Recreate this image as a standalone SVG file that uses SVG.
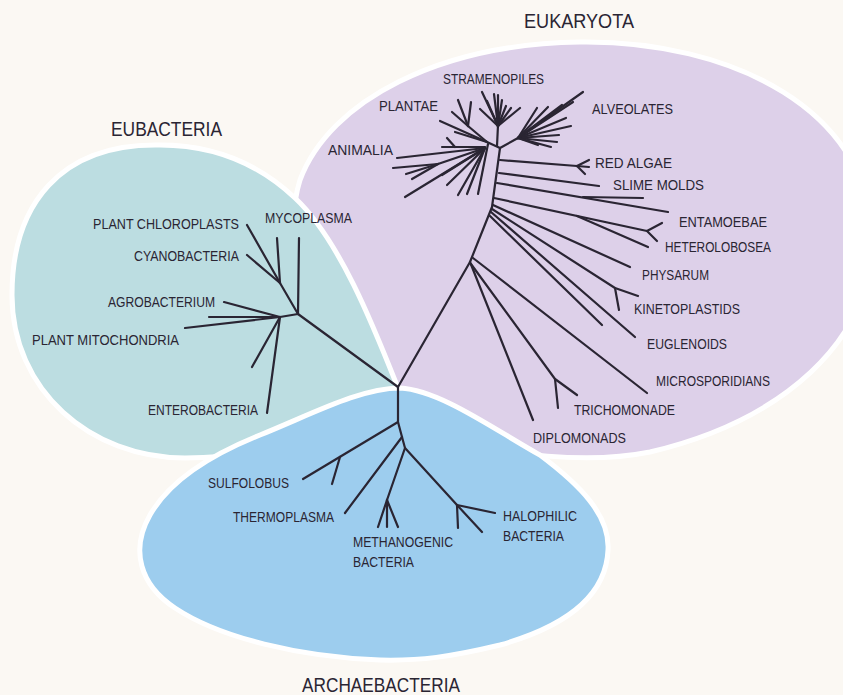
<svg xmlns="http://www.w3.org/2000/svg" width="843" height="695" viewBox="0 0 843 695">
<style>
.bg{fill:#fbf8f3}
.blob{stroke:#ffffff;stroke-width:5}
.euk{fill:#ddd0e9}
.eub{fill:#bcdde1}
.arc{fill:#9dcdee}
.t line,.t polyline,.t path{stroke:#2a2533;stroke-width:2.2;fill:none;stroke-linecap:round;stroke-linejoin:round}
text{font-family:"Liberation Sans","DejaVu Sans",sans-serif;fill:#2a2533;font-size:14px}
.title{font-size:21px}
</style>
<rect class="bg" x="0" y="0" width="843" height="695"/>

<g id="eukaryota-region">
<path class="blob euk" d="M 580 42 C 730 40, 875 110, 872 245 C 870 340, 785 420, 650 452 C 600 462, 500 462, 430 425 C 330 370, 275 260, 300 180 C 330 100, 440 44, 580 42 Z"/>
</g>
<g id="eubacteria-region">
<path class="blob eub" d="M 398 388 C 375 330, 340 240, 295 198 C 260 165, 215 145, 160 145 C 60 143, 12 205, 12 295 C 12 390, 90 458, 185 458 C 270 458, 350 430, 398 388 Z"/>
</g>
<g id="archaebacteria-region">
<path class="blob arc" d="M 400 388 C 440 390, 495 430, 540 455 C 580 485, 610 515, 608 550 C 606 600, 560 628, 500 645 C 450 657, 420 661, 380 660 C 300 657, 220 638, 175 608 C 140 585, 130 550, 150 515 C 170 480, 210 455, 260 435 C 310 415, 360 388, 400 388 Z"/>
</g>

<g id="connectors" class="t">
<!-- eubacteria -->
<line x1="398" y1="387" x2="298" y2="314"/>
<line x1="298" y1="314" x2="299" y2="238"/>
<line x1="298" y1="314" x2="280" y2="283"/>
<line x1="280" y1="283" x2="247" y2="225"/>
<line x1="280" y1="283" x2="247" y2="255"/>
<line x1="280" y1="283" x2="277" y2="238"/>
<line x1="298" y1="314" x2="280" y2="317"/>
<line x1="280" y1="317" x2="224" y2="302"/>
<line x1="280" y1="317" x2="209" y2="317"/>
<line x1="280" y1="317" x2="185" y2="328"/>
<line x1="280" y1="317" x2="252" y2="367"/>
<line x1="280" y1="317" x2="267" y2="413"/>
<!-- archaebacteria -->
<polyline points="398,387 398,422 402,437 405,448"/>
<line x1="398" y1="422" x2="303" y2="479"/>
<line x1="340" y1="457" x2="332" y2="484"/>
<line x1="402" y1="437" x2="345" y2="513"/>
<line x1="405" y1="448" x2="387" y2="500"/>
<line x1="387" y1="500" x2="378" y2="527"/>
<line x1="387" y1="500" x2="387" y2="527"/>
<line x1="387" y1="500" x2="398" y2="527"/>
<line x1="405" y1="448" x2="457" y2="505"/>
<line x1="457" y1="505" x2="458" y2="528"/>
<line x1="457" y1="505" x2="482" y2="532"/>
<line x1="457" y1="505" x2="495" y2="513"/>
<!-- eukaryota stem -->
<polyline points="398,387 470,262 492,207 500,148"/>
<!-- lower node -->
<line x1="470" y1="262" x2="533" y2="420"/>
<polyline points="471,264 555,379 577,395"/>
<line x1="555" y1="379" x2="558" y2="408"/>
<line x1="473" y1="258" x2="647" y2="393"/>
<!-- middle fan -->
<line x1="490" y1="216" x2="602" y2="325"/>
<line x1="491" y1="212" x2="635" y2="337"/>
<polyline points="492,209 615,288 638,296"/>
<line x1="615" y1="288" x2="619" y2="310"/>
<line x1="493" y1="205" x2="630" y2="267"/>
<polyline points="494,198 647,231 662,223"/>
<line x1="647" y1="231" x2="657" y2="241"/>
<line x1="577" y1="216" x2="648" y2="247"/>
<line x1="497" y1="183" x2="668" y2="212"/>
<line x1="583" y1="197" x2="643" y2="198"/>
<line x1="499" y1="173" x2="599" y2="186"/>
<polyline points="500,160 577,166 589,167"/>
<line x1="577" y1="166" x2="589" y2="160"/>
<line x1="577" y1="166" x2="585" y2="174"/>
<!-- crown -->
<line x1="500" y1="148" x2="487" y2="142"/>
<line x1="500" y1="148" x2="518" y2="138"/>
<line x1="497" y1="146" x2="498" y2="125"/>
<!-- stramenopiles -->
<line x1="498" y1="126" x2="482" y2="92"/>
<line x1="498" y1="126" x2="487" y2="101"/>
<line x1="498" y1="126" x2="494" y2="94"/>
<line x1="498" y1="126" x2="498" y2="95"/>
<line x1="498" y1="126" x2="502" y2="100"/>
<line x1="498" y1="126" x2="506" y2="106"/>
<line x1="498" y1="126" x2="511" y2="108"/>
<line x1="498" y1="126" x2="520" y2="108"/>
<line x1="498" y1="126" x2="480" y2="109"/>
<!-- alveolates -->
<line x1="518" y1="138" x2="583" y2="92"/>
<line x1="518" y1="138" x2="573" y2="102"/>
<line x1="518" y1="138" x2="562" y2="105"/>
<line x1="518" y1="138" x2="548" y2="107"/>
<line x1="518" y1="138" x2="537" y2="108"/>
<line x1="518" y1="138" x2="566" y2="118"/>
<line x1="518" y1="138" x2="571" y2="126"/>
<line x1="518" y1="138" x2="559" y2="135"/>
<line x1="518" y1="138" x2="557" y2="142"/>
<line x1="518" y1="138" x2="551" y2="147"/>
<line x1="518" y1="138" x2="538" y2="145"/>
<!-- plantae -->
<line x1="487" y1="142" x2="440" y2="121"/>
<line x1="487" y1="142" x2="468" y2="126"/>
<line x1="468" y1="126" x2="452" y2="112"/>
<line x1="468" y1="126" x2="458" y2="100"/>
<line x1="468" y1="126" x2="471" y2="102"/>
<line x1="487" y1="142" x2="455" y2="132"/>
<!-- animalia -->
<line x1="485" y1="147" x2="442" y2="147"/>
<line x1="455" y1="147" x2="447" y2="138"/>
<line x1="485" y1="148" x2="397" y2="158"/>
<line x1="485" y1="148" x2="438" y2="164"/>
<line x1="438" y1="164" x2="393" y2="168"/>
<line x1="438" y1="164" x2="406" y2="174"/>
<line x1="438" y1="164" x2="412" y2="179"/>
<line x1="485" y1="148" x2="405" y2="197"/>
<line x1="485" y1="148" x2="442" y2="175"/>
<line x1="485" y1="148" x2="447" y2="185"/>
<line x1="485" y1="148" x2="458" y2="195"/>
<line x1="485" y1="148" x2="467" y2="194"/>
<line x1="488" y1="144" x2="478" y2="194"/>
</g>

<g id="titles">
<text class="title" x="524" y="28" textLength="110" lengthAdjust="spacingAndGlyphs">EUKARYOTA</text>
<text class="title" x="111" y="136" textLength="111" lengthAdjust="spacingAndGlyphs">EUBACTERIA</text>
<text class="title" x="302" y="692" textLength="158" lengthAdjust="spacingAndGlyphs">ARCHAEBACTERIA</text>
</g>

<g id="eukaryota-labels">
<text x="443" y="84" textLength="101" lengthAdjust="spacingAndGlyphs">STRAMENOPILES</text>
<text x="379" y="111" textLength="59" lengthAdjust="spacingAndGlyphs">PLANTAE</text>
<text x="592" y="114" textLength="81" lengthAdjust="spacingAndGlyphs">ALVEOLATES</text>
<text x="328" y="155" textLength="65" lengthAdjust="spacingAndGlyphs">ANIMALIA</text>
<text x="595" y="168" textLength="77" lengthAdjust="spacingAndGlyphs">RED ALGAE</text>
<text x="613" y="190" textLength="91" lengthAdjust="spacingAndGlyphs">SLIME MOLDS</text>
<text x="679" y="227" textLength="88" lengthAdjust="spacingAndGlyphs">ENTAMOEBAE</text>
<text x="665" y="252" textLength="106" lengthAdjust="spacingAndGlyphs">HETEROLOBOSEA</text>
<text x="642" y="280" textLength="67" lengthAdjust="spacingAndGlyphs">PHYSARUM</text>
<text x="634" y="314" textLength="106" lengthAdjust="spacingAndGlyphs">KINETOPLASTIDS</text>
<text x="647" y="349" textLength="80" lengthAdjust="spacingAndGlyphs">EUGLENOIDS</text>
<text x="656" y="386" textLength="114" lengthAdjust="spacingAndGlyphs">MICROSPORIDIANS</text>
<text x="574" y="415" textLength="101" lengthAdjust="spacingAndGlyphs">TRICHOMONADE</text>
<text x="533" y="443" textLength="93" lengthAdjust="spacingAndGlyphs">DIPLOMONADS</text>
</g>

<g id="eubacteria-labels">
<text x="93" y="229" textLength="146" lengthAdjust="spacingAndGlyphs">PLANT CHLOROPLASTS</text>
<text x="265" y="223" textLength="87" lengthAdjust="spacingAndGlyphs">MYCOPLASMA</text>
<text x="134" y="261" textLength="105" lengthAdjust="spacingAndGlyphs">CYANOBACTERIA</text>
<text x="108" y="307" textLength="107" lengthAdjust="spacingAndGlyphs">AGROBACTERIUM</text>
<text x="32" y="345" textLength="147" lengthAdjust="spacingAndGlyphs">PLANT MITOCHONDRIA</text>
<text x="148" y="415" textLength="110" lengthAdjust="spacingAndGlyphs">ENTEROBACTERIA</text>
</g>

<g id="archaebacteria-labels">
<text x="208" y="488" textLength="81" lengthAdjust="spacingAndGlyphs">SULFOLOBUS</text>
<text x="233" y="522" textLength="101" lengthAdjust="spacingAndGlyphs">THERMOPLASMA</text>
<text x="353" y="547" textLength="100" lengthAdjust="spacingAndGlyphs">METHANOGENIC</text>
<text x="353" y="567" textLength="61" lengthAdjust="spacingAndGlyphs">BACTERIA</text>
<text x="503" y="521" textLength="74" lengthAdjust="spacingAndGlyphs">HALOPHILIC</text>
<text x="503" y="541" textLength="61" lengthAdjust="spacingAndGlyphs">BACTERIA</text>
</g>
</svg>
